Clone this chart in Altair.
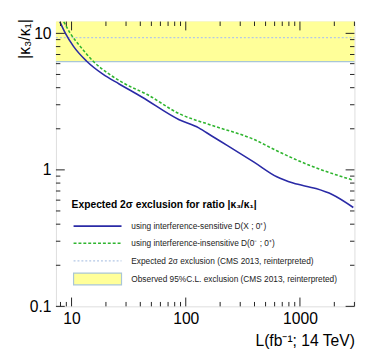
import altair as alt
import pandas as pd

# ---- data ----
L_sens = [7.89, 8.84, 10.4, 13.5, 18.8, 26.1, 41.2, 87.6, 130, 169, 234, 396, 627, 871, 1377, 1914, 2933]
k_sens = [12.2, 10.0, 8.03, 6.27, 5.02, 4.26, 3.42, 2.33, 2.03, 1.77, 1.50, 1.14, 0.89, 0.80, 0.73, 0.66, 0.53]
L_insens = [8.54, 9.75, 11.9, 15.4, 21.4, 29.5, 45.5, 87.6, 169, 396, 627, 1211, 2933]
k_insens = [12.2, 10.0, 8.03, 6.27, 5.02, 4.26, 3.58, 2.58, 2.12, 1.67, 1.38, 1.08, 0.84]
band_low = 6.2
band_high = 12.2
expected_cms = 9.3
x_domain = [7.3, 3000]
y_domain = [0.1, 12.2]
x_major = [10, 100, 1000]
x_minor = [8, 9, 20, 30, 40, 50, 60, 70, 80, 90, 200, 300, 400, 500, 600, 700, 800, 900, 2000, 3000]
y_major = [0.1, 1, 10]
y_minor = [0.2, 0.3, 0.4, 0.5, 0.6, 0.7, 0.8, 0.9, 2, 3, 4, 5, 6, 7, 8, 9]
legend_title = "Expected 2σ exclusion for ratio |κ₃/κ₁|"
legend_labels = [
    "using interference-sensitive D(X ; 0⁺)",
    "using interference-insensitive D(0⁻ ; 0⁺)",
    "Expected 2σ exclusion (CMS 2013, reinterpreted)",
    "Observed 95%C.L. exclusion (CMS 2013, reinterpreted)",
]

W, H = 305, 291
FONT = "Liberation Sans"

xs = alt.Scale(type="log", domain=x_domain, nice=False)
ys = alt.Scale(type="log", domain=y_domain, nice=False)

sens = pd.DataFrame({"L": L_sens, "k": k_sens})
insens = pd.DataFrame({"L": L_insens, "k": k_insens})
one = alt.Data(values=[{}])

X_AX = alt.Axis(values=x_major, format="~g", tickSize=0, domain=False, grid=False,
                labelFont=FONT, labelFontSize=16, labelColor="black", labelPadding=5,
                title="L(fb⁻¹; 14 TeV)", titleFont=FONT, titleFontSize=16, titleFontWeight="normal",
                titleColor="black", titleX=W, titleY=40, titleAlign="right", titleBaseline="alphabetic")
Y_AX = alt.Axis(values=y_major, format="~g", tickSize=0, domain=False, grid=False,
                labelFont=FONT, labelFontSize=16, labelColor="black", labelPadding=5,
                title="|κ₃/κ₁|", titleFont=FONT, titleFontSize=16, titleFontWeight="normal",
                titleColor="black", titleX=-32, titleY=-3, titleAlign="right", titleAngle=-90,
                titleBaseline="middle")

band = alt.Chart(one).mark_rect(color="#ffff99", opacity=1).encode(
    x=alt.datum(x_domain[0], scale=xs, axis=X_AX),
    x2=alt.datum(x_domain[1]),
    y=alt.datum(band_low, scale=ys, axis=Y_AX),
    y2=alt.datum(band_high),
)
band_edge = alt.Chart(one).mark_rule(color="#a9c6d6", strokeWidth=1.2).encode(
    y=alt.datum(band_low), x=alt.value(0), x2=alt.value(W))
exp_line = alt.Chart(one).mark_rule(color="#b4c8e6", strokeWidth=1.2, strokeDash=[2, 2]).encode(
    y=alt.datum(expected_cms), x=alt.value(0), x2=alt.value(W))

line_sens = alt.Chart(sens).mark_line(color="#2a2aa6", strokeWidth=1.6, clip=True,
                                       interpolate="monotone").encode(
    x=alt.X("L:Q", scale=xs), y=alt.Y("k:Q", scale=ys))
line_insens = alt.Chart(insens).mark_line(color="#2fb52f", strokeWidth=1.6, strokeDash=[3, 2],
                                           clip=True, interpolate="monotone").encode(
    x=alt.X("L:Q", scale=xs), y=alt.Y("k:Q", scale=ys))

def xticks(vals, length):
    d = pd.DataFrame({"v": vals})
    b = alt.Chart(d).mark_rule(color="#222", strokeWidth=1).encode(
        x=alt.X("v:Q", scale=xs), y=alt.value(H), y2=alt.value(H - length))
    t = alt.Chart(d).mark_rule(color="#222", strokeWidth=1).encode(
        x=alt.X("v:Q", scale=xs), y=alt.value(0), y2=alt.value(length))
    return [b, t]

def yticks(vals, length):
    d = pd.DataFrame({"v": vals})
    l = alt.Chart(d).mark_rule(color="#222", strokeWidth=1).encode(
        y=alt.Y("v:Q", scale=ys), x=alt.value(0), x2=alt.value(length))
    r = alt.Chart(d).mark_rule(color="#222", strokeWidth=1).encode(
        y=alt.Y("v:Q", scale=ys), x=alt.value(W), x2=alt.value(W - length))
    return [l, r]

ticks = xticks(x_major, 9) + xticks(x_minor, 4.5) + yticks(y_major, 9) + yticks(y_minor, 4.5)

# ---- legend (drawn by hand, ROOT-style) ----
LX0, LX1, TX = 18, 67, 77
entry_y = [209, 226.5, 244.5, 263]
leg = []
leg.append(alt.Chart(one).mark_text(text=legend_title, font=FONT, fontSize=10.5, fontWeight="bold",
                                    align="left", baseline="middle", color="black").encode(
    x=alt.value(16), y=alt.value(187)))
for lab, yy in zip(legend_labels, entry_y):
    leg.append(alt.Chart(one).mark_text(text=lab, font=FONT, fontSize=8.5, align="left",
                                        baseline="middle", color="#222").encode(
        x=alt.value(TX), y=alt.value(yy)))
leg.append(alt.Chart(one).mark_rule(color="#2a2aa6", strokeWidth=1.6).encode(
    x=alt.value(LX0), x2=alt.value(LX1), y=alt.value(entry_y[0])))
leg.append(alt.Chart(one).mark_rule(color="#2fb52f", strokeWidth=1.6, strokeDash=[3, 2]).encode(
    x=alt.value(LX0), x2=alt.value(LX1), y=alt.value(entry_y[1])))
leg.append(alt.Chart(one).mark_rule(color="#b4c8e6", strokeWidth=1.2, strokeDash=[2, 2]).encode(
    x=alt.value(LX0), x2=alt.value(LX1), y=alt.value(entry_y[2])))
leg.append(alt.Chart(one).mark_rect(color="#ffff99", stroke="#a9c6d6", strokeWidth=1.2).encode(
    x=alt.value(LX0), x2=alt.value(LX1), y=alt.value(entry_y[3] - 6), y2=alt.value(entry_y[3] + 6)))

chart = alt.layer(band, band_edge, exp_line, line_sens, line_insens, *ticks, *leg).properties(
    width=W, height=H,
    autosize=alt.AutoSizeParams(type="none"),
    padding={"left": 49, "top": 10, "right": 20, "bottom": 54},
).configure_view(stroke="black", strokeWidth=1.2).configure(background="white")

chart.save("out.html", embed_options={"renderer": "svg", "actions": False})
